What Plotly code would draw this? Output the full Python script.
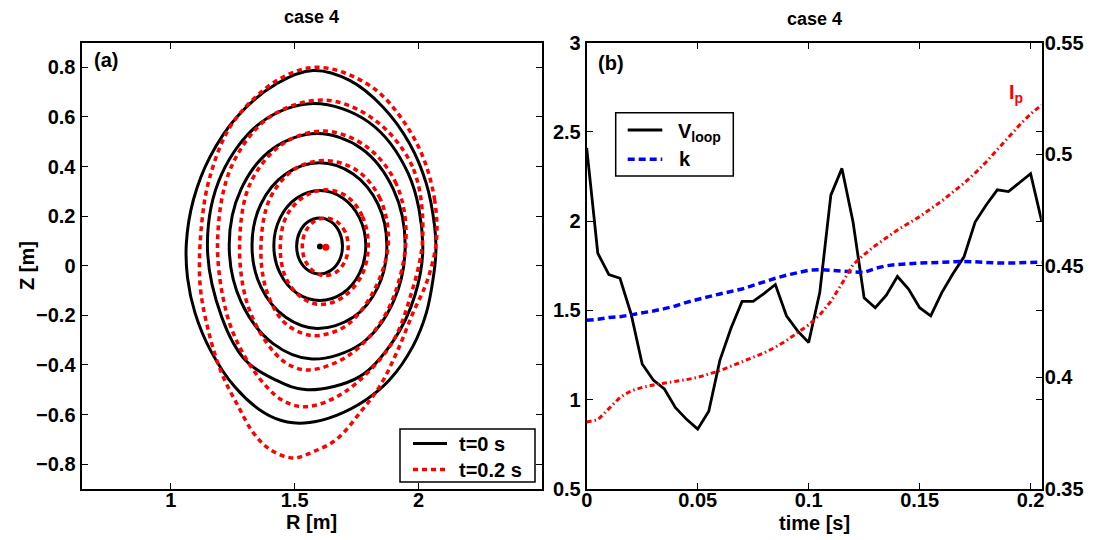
import plotly.graph_objects as go

# ---------------- panel (b) data ----------------
time_s = [0, 0.005, 0.01, 0.015, 0.02, 0.025, 0.03, 0.035, 0.04, 0.045,
          0.05, 0.055, 0.06, 0.065, 0.07, 0.075, 0.08, 0.085, 0.09, 0.095,
          0.1, 0.105, 0.11, 0.115, 0.12, 0.125, 0.13, 0.135, 0.14, 0.145,
          0.15, 0.155, 0.16, 0.165, 0.17, 0.175, 0.18, 0.185, 0.19, 0.195,
          0.2, 0.205]
v_loop = [2.41, 1.82, 1.70, 1.68, 1.48, 1.20, 1.11, 1.06, 0.955, 0.89,
          0.835, 0.935, 1.22, 1.40, 1.55, 1.55, 1.595, 1.645, 1.47, 1.385,
          1.32, 1.60, 2.145, 2.295, 1.995, 1.57, 1.515, 1.585, 1.69, 1.62,
          1.515, 1.47, 1.60, 1.705, 1.80, 1.995, 2.09, 2.175, 2.165, 2.215,
          2.265, 2.00]
kappa = [1.445, 1.45, 1.46, 1.465, 1.475, 1.485, 1.497, 1.51, 1.525, 1.545,
         1.563, 1.577, 1.592, 1.606, 1.62, 1.64, 1.662, 1.68, 1.697, 1.712,
         1.725, 1.728, 1.724, 1.72, 1.712, 1.712, 1.735, 1.75, 1.757, 1.762,
         1.765, 1.767, 1.77, 1.772, 1.774, 1.772, 1.768, 1.765, 1.765, 1.767,
         1.77, 1.77]
ip_MA = [0.380, 0.381, 0.386, 0.391, 0.394, 0.3955, 0.3966, 0.3973, 0.398, 0.399,
         0.400, 0.4015, 0.403, 0.405, 0.407, 0.409, 0.411, 0.4135, 0.4165, 0.420,
         0.4235, 0.428, 0.434, 0.442, 0.4505, 0.455, 0.459, 0.4625, 0.466, 0.469,
         0.472, 0.4755, 0.479, 0.483, 0.487, 0.4915, 0.4965, 0.502, 0.5075, 0.513,
         0.518, 0.522]

# ---------------- panel (a) data: flux surfaces (R, Z) ----------------
# t = 0 s (black)
b1_R = [2.070, 2.065, 2.031, 1.964, 1.857, 1.722, 1.575, 1.427, 1.266, 1.158, 1.091, 1.063,
        1.068, 1.098, 1.160, 1.260, 1.380, 1.470, 1.560, 1.669, 1.790, 1.884, 1.977, 2.031, 2.058]
b1_Z = [0.060, 0.157, 0.332, 0.492, 0.639, 0.747, 0.787, 0.734, 0.599, 0.438, 0.264, 0.090,
        -0.050, -0.190, -0.340, -0.490, -0.595, -0.630, -0.632, -0.603, -0.539, -0.459, -0.325, -0.191, -0.057]
b2_R = [2.017, 1.959, 1.800, 1.575, 1.365, 1.206, 1.148, 1.206, 1.300, 1.420, 1.550, 1.764, 1.900, 1.985]
b2_Z = [0.085, 0.370, 0.578, 0.654, 0.578, 0.370, 0.085, -0.208, -0.380, -0.459, -0.500, -0.446, -0.300, -0.120]
b3_R = [1.946, 1.898, 1.769, 1.591, 1.413, 1.284, 1.236, 1.284, 1.413, 1.570, 1.769, 1.898]
b3_Z = [0.085, 0.309, 0.473, 0.533, 0.473, 0.309, 0.085, -0.146, -0.314, -0.376, -0.314, -0.146]
b4_R = [1.872, 1.836, 1.736, 1.600, 1.464, 1.364, 1.328, 1.364, 1.464, 1.590, 1.736, 1.836]
b4_Z = [0.082, 0.249, 0.370, 0.415, 0.370, 0.249, 0.082, -0.086, -0.208, -0.253, -0.208, -0.086]
b5_R = [1.787, 1.762, 1.694, 1.602, 1.509, 1.441, 1.416, 1.441, 1.509, 1.602, 1.694, 1.762]
b5_Z = [0.080, 0.192, 0.273, 0.303, 0.273, 0.192, 0.080, -0.030, -0.111, -0.140, -0.111, -0.030]
b6_R = [1.693, 1.681, 1.647, 1.601, 1.554, 1.520, 1.508, 1.520, 1.554, 1.601, 1.647, 1.681]
b6_Z = [0.078, 0.135, 0.177, 0.192, 0.177, 0.135, 0.078, 0.023, -0.018, -0.033, -0.018, 0.023]
# t = 0.2 s (red)
r1_R = [2.072, 2.065, 2.018, 1.937, 1.830, 1.695, 1.588, 1.494, 1.373, 1.239, 1.158, 1.125, 1.118,
        1.151, 1.205, 1.272, 1.333, 1.400, 1.494, 1.575, 1.669, 1.763, 1.843, 1.911, 1.977, 2.035]
r1_Z = [0.100, 0.264, 0.438, 0.586, 0.707, 0.780, 0.800, 0.780, 0.707, 0.559, 0.358, 0.171, -0.070,
        -0.258, -0.432, -0.566, -0.673, -0.740, -0.775, -0.750, -0.700, -0.593, -0.486, -0.352, -0.191, -0.060]
r2_R = [2.017, 1.975, 1.820, 1.620, 1.400, 1.245, 1.189, 1.225, 1.290, 1.380, 1.460, 1.550, 1.700, 1.884, 1.965]
r2_Z = [0.120, 0.400, 0.590, 0.668, 0.600, 0.400, 0.100, -0.190, -0.350, -0.480, -0.548, -0.568, -0.510, -0.325, -0.130]
r3_R = [1.949, 1.910, 1.790, 1.620, 1.450, 1.320, 1.278, 1.305, 1.380, 1.470, 1.560, 1.720, 1.870]
r3_Z = [0.100, 0.330, 0.480, 0.543, 0.490, 0.330, 0.090, -0.140, -0.300, -0.395, -0.420, -0.360, -0.190]
r4_R = [1.878, 1.845, 1.750, 1.625, 1.500, 1.400, 1.364, 1.385, 1.450, 1.530, 1.600, 1.710, 1.820]
r4_Z = [0.090, 0.270, 0.385, 0.424, 0.390, 0.270, 0.080, -0.095, -0.220, -0.272, -0.281, -0.240, -0.100]
r5_R = [1.797, 1.773, 1.710, 1.625, 1.540, 1.467, 1.442, 1.465, 1.530, 1.600, 1.690, 1.770]
r5_Z = [0.080, 0.200, 0.280, 0.306, 0.280, 0.200, 0.075, -0.050, -0.130, -0.156, -0.130, -0.040]
r6_R = [1.716, 1.704, 1.670, 1.624, 1.578, 1.543, 1.531, 1.543, 1.578, 1.620, 1.670, 1.704]
r6_Z = [0.078, 0.136, 0.178, 0.192, 0.178, 0.136, 0.078, 0.020, -0.024, -0.040, -0.024, 0.020]
axis_t0 = (1.602, 0.078)
axis_t02 = (1.626, 0.075)

black_R = [b1_R, b2_R, b3_R, b4_R, b5_R, b6_R]
black_Z = [b1_Z, b2_Z, b3_Z, b4_Z, b5_Z, b6_Z]
red_R = [r1_R, r2_R, r3_R, r4_R, r5_R, r6_R]
red_Z = [r1_Z, r2_Z, r3_Z, r4_Z, r5_Z, r6_Z]

FONT = "Liberation Sans, Arial, sans-serif"
W, H = 1093, 540
RED_DASH = "5px,4px"
BLUE_DASH = "7px,4px"


def px(x):
    return x / W


def py(y):
    return 1 - y / H


def closed(a):
    return list(a) + [a[0]]


fig = go.Figure()

for i, (R, Z) in enumerate(zip(black_R, black_Z)):
    fig.add_trace(go.Scatter(x=closed(R), y=closed(Z), mode="lines",
                             line=dict(color="black", width=3, shape="spline", smoothing=1.0),
                             name="t=0 s", showlegend=False, xaxis="x", yaxis="y"))
for i, (R, Z) in enumerate(zip(red_R, red_Z)):
    fig.add_trace(go.Scatter(x=closed(R), y=closed(Z), mode="lines",
                             line=dict(color="#ff0000", width=3.5, dash=RED_DASH,
                                       shape="spline", smoothing=1.0),
                             name="t=0.2 s", showlegend=False, xaxis="x", yaxis="y"))
fig.add_trace(go.Scatter(x=[axis_t0[0]], y=[axis_t0[1]], mode="markers",
                         marker=dict(color="black", size=6), showlegend=False,
                         xaxis="x", yaxis="y"))
fig.add_trace(go.Scatter(x=[axis_t02[0]], y=[axis_t02[1]], mode="markers",
                         marker=dict(color="#ff0000", size=7), showlegend=False,
                         xaxis="x", yaxis="y"))

# panel (b)
fig.add_trace(go.Scatter(x=time_s, y=ip_MA, mode="lines", name="Ip",
                         line=dict(color="#ff0000", width=3, dash="5px,3px,1.5px,3px"),
                         showlegend=False, xaxis="x2", yaxis="y3"))
fig.add_trace(go.Scatter(x=time_s, y=v_loop, mode="lines", name="Vloop",
                         line=dict(color="black", width=2.8),
                         showlegend=False, xaxis="x2", yaxis="y2"))
fig.add_trace(go.Scatter(x=time_s, y=kappa, mode="lines", name="k",
                         line=dict(color="#0000ff", width=3.5, dash=BLUE_DASH),
                         showlegend=False, xaxis="x2", yaxis="y2"))

tickfont = dict(family=FONT, size=20, color="black", weight="bold")
common = dict(showgrid=False, zeroline=False, showline=True, linecolor="black",
              linewidth=2, ticks="inside", ticklen=6, tickwidth=1.2, tickcolor="black",
              tickfont=tickfont, mirror="ticks", automargin=False)

fig.update_layout(
    template="none",
    width=W, height=H, margin=dict(l=0, r=0, t=0, b=0, pad=0),
    paper_bgcolor="white", plot_bgcolor="white", showlegend=False,
    xaxis=dict(domain=[px(81.5), px(542)], range=[0.640, 2.498], tickvals=[1, 1.5, 2],
               anchor="y", ticklabelstandoff=-8, **common),
    yaxis=dict(domain=[py(489), py(42.5)], range=[-0.9, 0.9], tick0=0, dtick=0.2,
               anchor="x", **common),
    xaxis2=dict(domain=[px(586.7), px(1041.7)], range=[0, 0.205], tick0=0, dtick=0.05,
                anchor="y2", ticklabelstandoff=-8, **common),
    yaxis2=dict(domain=[py(489), py(42.5)], range=[0.5, 3], tick0=0.5, dtick=0.5,
                anchor="x2", **common),
    yaxis3=dict(domain=[py(489), py(42.5)], range=[0.35, 0.55], tick0=0.35, dtick=0.05,
                overlaying="y2", side="right", anchor="x2", showgrid=False, zeroline=False,
                showline=True, linecolor="black", linewidth=2, ticks="inside", ticklen=6,
                tickwidth=1.2, tickcolor="black", tickfont=tickfont, automargin=False,
                ticklabelstandoff=-3),
)

# ---------- legends (boxes, samples, labels) ----------
shapes = [
    # left legend
    dict(type="rect", xref="paper", yref="paper", x0=px(400), x1=px(535), y0=py(482), y1=py(429),
         line=dict(color="black", width=1.5), fillcolor="white", layer="above"),
    dict(type="line", xref="paper", yref="paper", x0=px(413), x1=px(447), y0=py(443.5), y1=py(443.5),
         line=dict(color="black", width=3), layer="above"),
    dict(type="line", xref="paper", yref="paper", x0=px(413), x1=px(447), y0=py(469.5), y1=py(469.5),
         line=dict(color="#ff0000", width=3.5, dash=RED_DASH), layer="above"),
    # right legend
    dict(type="rect", xref="paper", yref="paper", x0=px(615.7), x1=px(733.3), y0=py(176), y1=py(112.7),
         line=dict(color="black", width=1.5), fillcolor="white", layer="above"),
    dict(type="line", xref="paper", yref="paper", x0=px(627.7), x1=px(662.3), y0=py(130), y1=py(130),
         line=dict(color="black", width=3), layer="above"),
    dict(type="line", xref="paper", yref="paper", x0=px(627.7), x1=px(662.3), y0=py(159.3), y1=py(159.3),
         line=dict(color="#0000ff", width=3.5, dash=BLUE_DASH), layer="above"),
]
fig.update_layout(shapes=shapes)

big = dict(family=FONT, size=20, color="black", weight="bold")


def note(text, x, y, font, xanchor="center", **kw):
    return dict(text=text, x=px(x), y=py(y), xref="paper", yref="paper",
                xanchor=xanchor, yanchor="middle", showarrow=False, font=font, **kw)


annotations = [
    note("case 4", 311.7, 17, dict(family=FONT, size=18, color="black", weight="bold")),
    note("case 4", 814, 19, dict(family=FONT, size=18, color="black", weight="bold")),
    note("R [m]", 311.7, 522, big),
    note("time [s]", 814, 523, big),
    note("Z [m]", 27, 266, big, textangle=-90),
    note("(a)", 92, 60, big, xanchor="left"),
    note("(b)", 596, 63, big, xanchor="left"),
    note("I<sub>p</sub>", 1007, 93, dict(family=FONT, size=20, color="#ff0000", weight="bold"),
         xanchor="left"),
    # legend labels
    note("t=0 s", 457, 443.5, big, xanchor="left"),
    note("t=0.2 s", 457, 469.5, big, xanchor="left"),
    note("V<sub>loop</sub>", 676, 132, big, xanchor="left"),
    note("k", 677, 159.3, big, xanchor="left"),
]
fig.update_layout(annotations=annotations)

fig.write_html("out.html", config={"displayModeBar": False},
               post_script="document.body.style.margin='0px';document.body.style.overflow='hidden';")
